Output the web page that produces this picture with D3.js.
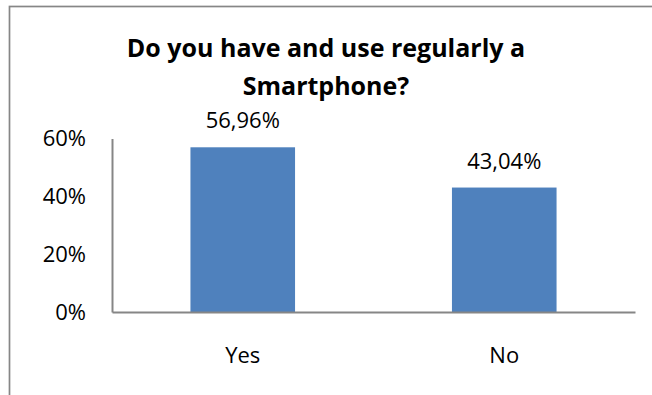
<!DOCTYPE html>
<html>
<head>
<meta charset="utf-8">
<script src="https://cdn.jsdelivr.net/npm/d3@7"></script>
<style>
  html, body { margin: 0; padding: 0; background: #fff; }
  svg { display: block; }
  text { font-family: "Open Sans", sans-serif; fill: #000; }
</style>
</head>
<body>
<svg id="chart" width="652" height="395"></svg>
<script>
const categories = ["Yes", "No"];
const values = [0.5696, 0.4304];
const valueLabels = ["56,96%", "43,04%"];
const yTicks = [0, 0.2, 0.4, 0.6];
const titleLines = ["Do you have and use regularly a", "Smartphone?"];

const svg = d3.select("#chart");
const W = 652, H = 395;
const plot = { left: 112, right: 635, top: 138.5, bottom: 312 };

// outer chart border (right/bottom edges fall outside the picture)
svg.append("rect")
  .attr("x", 9.5).attr("y", 6.5)
  .attr("width", W + 20).attr("height", H + 20)
  .attr("fill", "#fff").attr("stroke", "#868686").attr("stroke-width", 1.7);

// title
const title = svg.append("text")
  .attr("text-anchor", "middle")
  .style("font-weight", "bold").style("font-size", "25px");
titleLines.forEach((t, i) => {
  title.append("tspan").attr("x", 326).attr("y", 57 + i * 38).text(t);
});

const x = d3.scaleBand().domain(categories).range([plot.left, plot.right]).paddingInner(0).paddingOuter(0);
const y = d3.scaleLinear().domain([0, 0.6]).range([plot.bottom, plot.top]);
const barW = x.bandwidth() * 0.4;

// bars
svg.selectAll("rect.bar").data(categories).enter().append("rect")
  .attr("class", "bar")
  .attr("x", d => x(d) + (x.bandwidth() - barW) / 2)
  .attr("y", (d, i) => y(values[i]))
  .attr("width", barW)
  .attr("height", (d, i) => y(0) - y(values[i]))
  .attr("fill", "#4F81BD");

// value labels
svg.selectAll("text.val").data(categories).enter().append("text")
  .attr("class", "val")
  .attr("x", d => x(d) + x.bandwidth() / 2)
  .attr("y", (d, i) => y(values[i]) - 19)
  .attr("text-anchor", "middle")
  .style("font-size", "22px")
  .text((d, i) => valueLabels[i]);

// y axis
const yAxis = d3.axisLeft(y).tickValues(yTicks).tickSize(0).tickPadding(26)
  .tickFormat(d3.format(".0%"));
const gy = svg.append("g").attr("transform", `translate(${plot.left},0)`).call(yAxis);
gy.select(".domain").attr("stroke", "#868686").attr("stroke-width", 2);
gy.selectAll(".tick text").style("font-size", "22px").style("font-family", "'Open Sans', sans-serif")
  .attr("fill", "#000").attr("dy", "0.34em");

// x axis
const xAxis = d3.axisBottom(x).tickSize(0).tickPadding(35);
const gx = svg.append("g").attr("transform", `translate(0,${plot.bottom})`).call(xAxis);
gx.select(".domain").attr("stroke", "#868686").attr("stroke-width", 2);
gx.selectAll(".tick text").style("font-size", "22px").style("font-family", "'Open Sans', sans-serif")
  .attr("fill", "#000");
</script>
</body>
</html>
